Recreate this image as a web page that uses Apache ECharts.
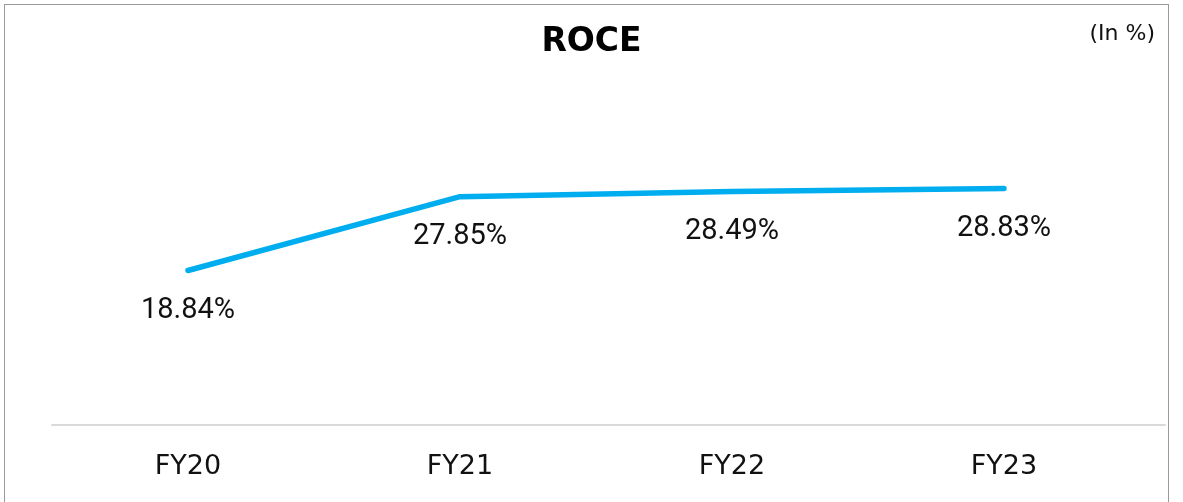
<!DOCTYPE html>
<html>
<head>
<meta charset="utf-8">
<script src="https://cdn.jsdelivr.net/npm/echarts@6/dist/echarts.min.js"></script>
<style>
  html, body { margin: 0; padding: 0; background: #fff; }
  #frame { position: absolute; left: 4px; top: 4px; width: 1165px; height: 520px; border: 1px solid #9a9a9a; box-sizing: border-box; }
  #chart { position: absolute; left: 0; top: 0; width: 1183px; height: 502px; }
</style>
</head>
<body>
<div id="frame"></div>
<div id="chart"></div>
<script>
const years = ['FY20', 'FY21', 'FY22', 'FY23']
const roce = [18.84, 27.85, 28.49, 28.83]

const chart = echarts.init(document.getElementById('chart'))
const option = {
  animation: false,
  title: {
    text: 'ROCE',
    left: 'center',
    top: 21,
    textStyle: { fontFamily: 'DejaVu Sans', fontWeight: 'bold', fontSize: 33, color: '#000' }
  },
  graphic: [
    {
      type: 'text',
      right: 28,
      top: 23,
      style: { text: '(In %)', fontFamily: 'DejaVu Sans', fontSize: 22, fill: '#111' }
    }
  ],
  grid: [
    { left: 52, right: 43, top: 97, bottom: 77 },
    // baseline runs a bit past the last category
    { left: 52, right: 18, top: 97, bottom: 77 }
  ],
  xAxis: [
    {
      type: 'category',
      gridIndex: 0,
      data: years,
      boundaryGap: true,
      axisLine: { show: false },
      axisTick: { show: false },
      axisLabel: { margin: 28, fontFamily: 'DejaVu Sans', fontSize: 27, color: '#111' }
    },
    {
      type: 'category',
      gridIndex: 1,
      data: years,
      axisLine: { show: true, lineStyle: { color: '#d9d9d9', width: 2 } },
      axisTick: { show: false },
      axisLabel: { show: false }
    }
  ],
  yAxis: [
    { type: 'value', gridIndex: 0, min: 0, max: 40, show: false },
    { type: 'value', gridIndex: 1, min: 0, max: 40, show: false }
  ],
  series: [
    {
      type: 'line',
      data: roce,
      showSymbol: true,
      symbol: 'circle',
      symbolSize: 1,
      itemStyle: { color: 'rgba(0,0,0,0)' },
      lineStyle: { color: '#00AEEF', width: 5.5, cap: 'round', join: 'round' },
      label: {
        show: true,
        position: 'bottom',
        distance: 25,
        fontFamily: 'Roboto',
        fontSize: 29,
        color: '#111',
        formatter: p => p.value.toFixed(2) + '%'
      }
    }
  ]
}
chart.setOption(option)
</script>
</body>
</html>
